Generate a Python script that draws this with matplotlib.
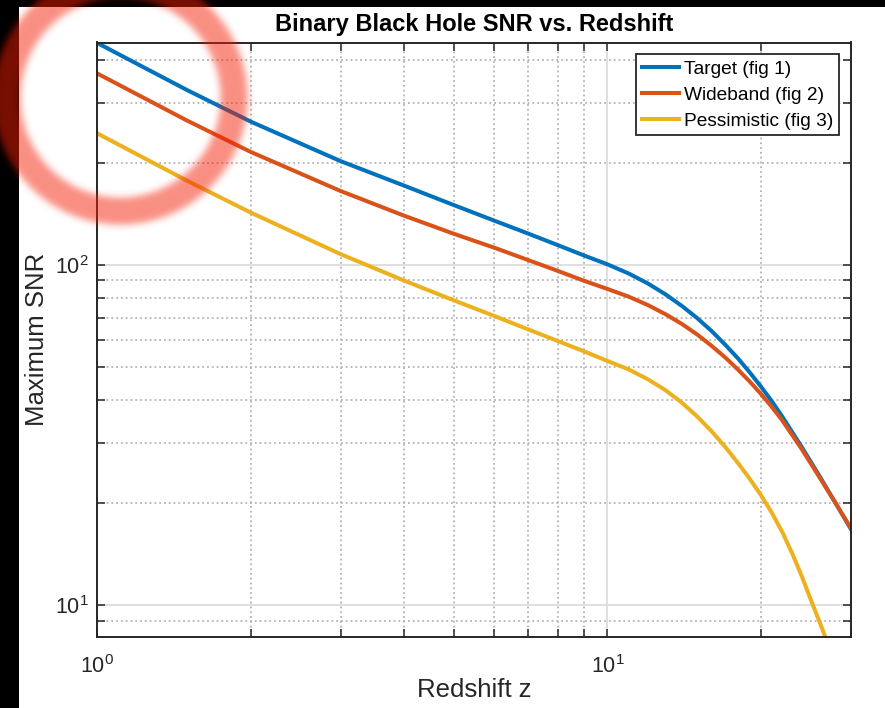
import numpy as np
import matplotlib
matplotlib.use("Agg")
import matplotlib.pyplot as plt
from matplotlib.patches import Rectangle
from matplotlib.ticker import LogLocator, NullFormatter, LogFormatterSciNotation
from math import erf

plt.rcParams['font.family'] = ['Liberation Sans', 'DejaVu Sans']
plt.rcParams['mathtext.fontset'] = 'custom'
plt.rcParams['mathtext.rm'] = 'Liberation Sans'
plt.rcParams['mathtext.it'] = 'Liberation Sans'

# ---------------- Dati ----------------

z_target = [1, 1.5, 2, 3, 4, 5, 6, 7, 8, 9, 10, 11, 12, 13, 14, 15, 16, 17, 18, 19,
            20, 21, 22, 24, 26, 28, 30]
snr_target = [450, 327, 264, 202, 171, 150, 135, 123.6, 114.3, 106.6, 100.4, 94.4,
              88.2, 81.9, 75.7, 69.7, 63.9, 58.3, 53.2, 48.3, 43.8, 39.7, 35.8, 29.2,
              24.0, 19.9, 16.7]

z_wideband = [1, 1.5, 2, 3, 4, 5, 6, 7, 8, 9, 10, 11, 12, 13, 14, 15, 16, 17, 18, 19,
              20, 21, 22, 24, 26, 28, 30]
snr_wideband = [366, 266, 215, 165, 139.5, 123.5, 112.4, 103.3, 96, 89.8, 85, 80.7,
                76.2, 71.6, 67.0, 62.4, 57.8, 53.5, 49.3, 45.4, 41.7, 38.2, 34.9, 28.8,
                23.8, 19.9, 16.8]

z_pess = [1, 1.5, 2, 3, 4, 5, 6, 7, 8, 9, 10, 11, 12, 13, 14, 15, 16, 17, 18, 19,
          20, 21, 22, 23, 24, 25, 26, 27]
snr_pess = [244, 177, 142.6, 107.6, 89.9, 78.7, 70.8, 64.6, 59.7, 55.7, 52.2, 49.3,
            46.1, 42.8, 39.3, 35.8, 32.4, 29.2, 26.2, 23.5, 21.0, 18.65, 16.4, 14.2,
            12.2, 10.4, 8.96, 7.73]

labels = ["Target (fig 1)", "Wideband (fig 2)", "Pessimistic (fig 3)"]
colors = ["#0072BD", "#D95319", "#EDB120"]

# ---------------- Figura ----------------

W, H = 885, 708
fig = plt.figure(figsize=(W / 100, H / 100), dpi=100, facecolor="black")
fig.patches.append(Rectangle((19 / W, 0), 1 - 19 / W, 1 - 7 / H, transform=fig.transFigure,
                             facecolor="white", edgecolor="none", zorder=-5))

ax = fig.add_axes([97 / W, 1 - 637 / H, (851 - 97) / W, (637 - 42.5) / H], zorder=1)
ax.set_facecolor("white")

for zz, ss, lab, col in zip([z_target, z_wideband, z_pess],
                            [snr_target, snr_wideband, snr_pess], labels, colors):
    ax.plot(zz, ss, color=col, linewidth=2.9, label=lab, solid_joinstyle="round")

ax.set_xscale("log")
ax.set_yscale("log")
ax.set_xlim(1, 30)
ax.set_ylim(8.05, 451)

ax.xaxis.set_major_locator(LogLocator(base=10, numticks=10))
ax.yaxis.set_major_locator(LogLocator(base=10, numticks=10))
ax.xaxis.set_minor_locator(LogLocator(base=10, subs=np.arange(2, 10), numticks=20))
ax.yaxis.set_minor_locator(LogLocator(base=10, subs=np.arange(2, 10), numticks=20))
ax.xaxis.set_major_formatter(LogFormatterSciNotation())
ax.yaxis.set_major_formatter(LogFormatterSciNotation())
ax.xaxis.set_minor_formatter(NullFormatter())
ax.yaxis.set_minor_formatter(NullFormatter())

# Griglia stile MATLAB
ax.grid(which="major", color="#dcdcdc", linestyle="-", linewidth=1.3)
ax.grid(which="minor", color="#b4b4b4", linestyle=":", linewidth=1.3)
ax.set_axisbelow(True)

for sp in ax.spines.values():
    sp.set_color("#262626")
    sp.set_linewidth(1.4)
ax.tick_params(which="both", direction="in", top=True, right=True, length=5.8,
               width=1.1, color="#262626", labelcolor="#262626", labelsize=15.5)
ax.tick_params(axis="x", which="major", pad=13)
ax.tick_params(axis="y", which="major", pad=6)

ax.set_title("Binary Black Hole SNR vs. Redshift", fontsize=17, fontweight="bold", pad=8)
ax.set_xlabel("Redshift z", fontsize=18.5, color="#262626", labelpad=0)
ax.set_ylabel("Maximum SNR", fontsize=18.5, color="#262626", labelpad=4)

leg = ax.legend(loc="upper right", fontsize=13.8, frameon=True, fancybox=False,
                framealpha=1, edgecolor="#262626", borderaxespad=0.62, borderpad=0.3,
                labelspacing=0.45, handlelength=1.9, handletextpad=0.28)
leg.get_frame().set_linewidth(1.3)

# ---------------- Cerchio rosso sovrapposto ----------------

overlay = fig.add_axes([0, 0, 1, 1], zorder=10)
overlay.set_axis_off()
yy, xx = np.mgrid[0:H, 0:W]
rr = np.hypot(xx - 120, yy - 97)
verf = np.vectorize(erf)
ring = 0.5 * (verf((rr - 100) / 5) - verf((rr - 127) / 5))
rgba = np.zeros((H, W, 4))
rgba[..., 0] = 0.96
rgba[..., 1] = 0.12
rgba[..., 2] = 0.02
rgba[..., 3] = 0.5 * ring
overlay.imshow(rgba, extent=[0, W, H, 0], aspect="auto", interpolation="bilinear")
overlay.set_xlim(0, W)
overlay.set_ylim(H, 0)

fig.savefig("out.png", dpi=100, facecolor=fig.get_facecolor())
